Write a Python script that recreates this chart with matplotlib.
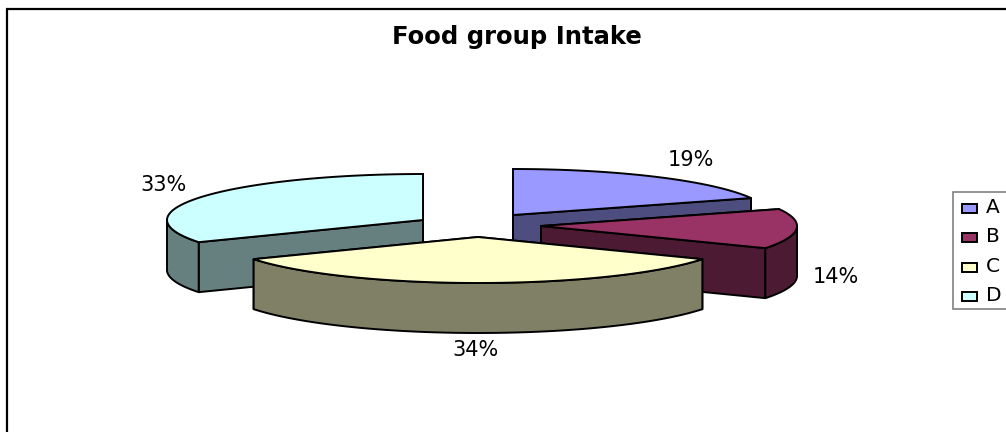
import numpy as np
import matplotlib
matplotlib.use("Agg")
import matplotlib.pyplot as plt
from matplotlib.patches import Polygon, Rectangle

title = "Food group Intake"
categories = ["A", "B", "C", "D"]
values = [19, 14, 34, 33]
labels = ["19%", "14%", "34%", "33%"]
top_colors = ["#9999FF", "#993366", "#FFFFCC", "#CCFFFF"]
side_colors = ["#4D4D80", "#4D1A33", "#808066", "#668080"]
# wedge apex positions (exploded pie), in figure pixels
apex_x = [513, 541, 478, 423]
apex_y = [215, 226, 237, 220]
label_x = [691, 836, 476, 164]
label_y = [160, 277, 350, 185]
RX, RY, DEPTH = 256, 46, 50

plt.rcParams["font.family"] = ["DejaVu Sans"]
fig = plt.figure(figsize=(10.06, 4.32), dpi=100)
ax = fig.add_axes([0, 0, 1, 1])
ax.set_xlim(0, 1006)
ax.set_ylim(432, 0)
ax.axis("off")

ax.plot([7, 7], [432, 9], color="black", lw=1.6, solid_capstyle="butt", zorder=1)
ax.plot([6, 1006], [9, 9], color="black", lw=1.6, solid_capstyle="butt", zorder=1)

ax.text(517, 44, title, ha="center", va="baseline", fontsize=17.5, fontweight="bold", color="black")


def arc(cx, cy, a0, a1):
    t = np.radians(np.linspace(a0, a1, 60))
    return cx + RX * np.sin(t), cy - RY * np.cos(t)


fractions = np.array(values) / sum(values)
edges = np.concatenate([[0], np.cumsum(fractions) * 360])
lw = 1.4
order = [3, 0, 1, 2]
for z, i in enumerate(order):
    a0, a1 = edges[i], edges[i + 1]
    cx, cy = apex_x[i], apex_y[i]
    x, y = arc(cx, cy, a0, a1)
    zb = 2 + z * 3
    kw = dict(edgecolor="black", linewidth=lw, joinstyle="round")

    def side_quad(px, py):
        pts = np.column_stack([np.r_[px, px[::-1]], np.r_[py, py[::-1] + DEPTH]])
        ax.add_patch(Polygon(pts, closed=True, facecolor=side_colors[i], zorder=zb, **kw))

    # radial faces
    side_quad(np.array([cx, x[0]]), np.array([cy, y[0]]))
    side_quad(np.array([cx, x[-1]]), np.array([cy, y[-1]]))
    # outer rim, only the part that faces the viewer
    lo, hi = max(a0, 90), min(a1, 270)
    if hi > lo:
        rx_, ry_ = arc(cx, cy, lo, hi)
        side_quad(rx_, ry_)
    top = np.column_stack([np.r_[cx, x], np.r_[cy, y]])
    ax.add_patch(Polygon(top, closed=True, facecolor=top_colors[i], zorder=zb + 1, **kw))
    ax.text(label_x[i], label_y[i], labels[i], ha="center", va="center", fontsize=15, color="black", zorder=50)

# legend
ax.add_patch(Rectangle((953, 192), 60, 117, facecolor="white", edgecolor="#808080", linewidth=1.2, zorder=30))
leg_y = np.arange(len(categories)) * 29.3 + 208.5
for c, col, ly in zip(categories, top_colors, leg_y):
    ax.add_patch(Rectangle((962, ly - 4.5), 15, 9, facecolor=col, edgecolor="black", linewidth=1.4, zorder=31))
    ax.text(986, ly + 4.5, c, ha="left", va="baseline", fontsize=14.5, color="black", zorder=31)

fig.savefig("out.png", dpi=100, facecolor="white")
